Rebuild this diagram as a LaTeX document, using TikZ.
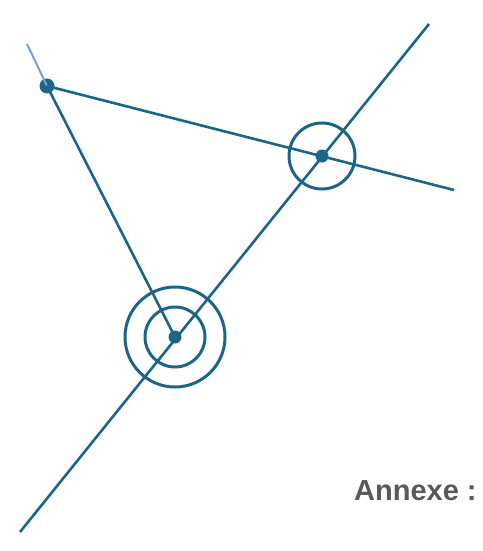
\documentclass[tikz,border=0pt]{standalone}
\usepackage{fontspec}
\setmainfont{Liberation Sans}
\usepackage{tikz}
\definecolor{teal1}{RGB}{27,101,135}
\definecolor{teal2}{RGB}{120,160,215}
\tikzset{ray/.style={teal1, line width=2.6pt},
  ring/.style={teal1, line width=3pt},
  pt/.style={circle, fill=teal1, inner sep=0pt, minimum size=#1},
  pt/.default={13pt}
}

\begin{document}
\begin{tikzpicture}[x=1pt,y=-1pt]
    \useasboundingbox (0,0) rectangle (482,551);

    \node[pt=15pt] (ptA) at (47,86) {};
    \node[pt] (ptB) at (322,156) {};
    \node[pt] (ptC) at (175,337) {};
    \coordinate (endAB) at (454,190);
    \coordinate (endUp) at (429,24);
    \coordinate (endDown) at (20,532);
    \coordinate (endA) at (27,44);

    \draw[teal2, line width=2pt] (ptA.center) -- (endA);
    \draw[ray] (ptA.center) -- (endAB)
      (ptA.center) -- (ptC.center)
      (endDown) -- (endUp);

    \draw[ring] (ptB) circle[radius=33];
    \draw[ring] (ptC) circle[radius=30]
      (ptC) circle[radius=50];

    \node[anchor=base west, inner sep=0pt, text=black!65, font=\bfseries\fontsize{29}{31}\selectfont] (annexe) at (354,500) {Annexe :};
  \end{tikzpicture}
\end{document}
